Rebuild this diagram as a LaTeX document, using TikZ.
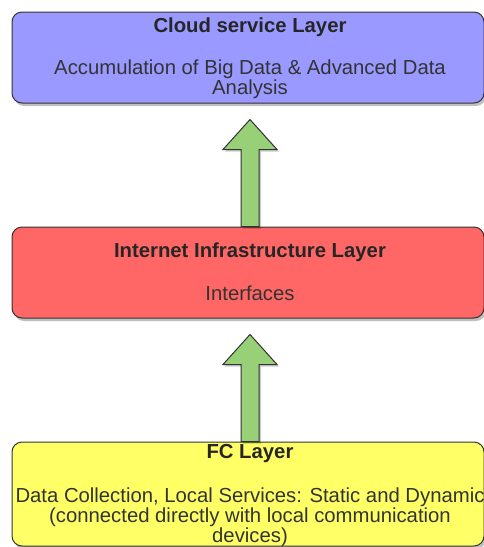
\documentclass[tikz,border=0pt]{standalone}
\usepackage{fontspec}
\setmainfont{Liberation Sans}
\usetikzlibrary{positioning, calc, shadows}
\definecolor{cloudblue}{HTML}{9999FF}
\definecolor{netred}{HTML}{FF6666}
\definecolor{fcyellow}{HTML}{FFFF66}
\definecolor{upgreen}{HTML}{97D077}
\definecolor{edgegray}{HTML}{333333}
\tikzset{
layer/.style={draw=edgegray, line width=1pt, rounded corners=10pt, minimum width=472pt,
  drop shadow={shadow xshift=2pt, shadow yshift=-3pt, fill=black, opacity=.25}}, % the three layer boxes
layertitle/.style={font=\fontsize{20.3}{20}\selectfont\bfseries, text=black!85, inner sep=0pt},
layertext/.style={font=\fontsize{20.3}{20}\selectfont, text=black!80, align=center, inner sep=0pt},
uparrow/.style={draw=edgegray, line width=1pt, fill=upgreen,
  drop shadow={shadow xshift=2pt, shadow yshift=-2pt, fill=black, opacity=.2}}, % block arrows between layers
}

\begin{document}
\begin{tikzpicture}[x=1pt, y=-1pt]
    \useasboundingbox (0,0) rectangle (484,547);
    % layers
    \node[layer, fill=cloudblue, minimum height=91pt] (cloud) at (248,57.5) {};
    \node[layer, fill=netred, minimum height=91pt] (internet) at (248,272.5) {};
    \node[layer, fill=fcyellow, minimum height=104pt] (fc) at (248,494) {};
    % texts
    \node[layertitle] (cloudtitle) at ([xshift=2pt,yshift=-16pt]cloud.north) {Cloud service Layer};
    \node[layertext] (cloudtext) at ([xshift=2pt,yshift=-68pt]cloud.north) {Accumulation of Big Data \& Advanced Data\\Analysis};
    \node[layertitle] (internettitle) at ([xshift=2pt,yshift=-26pt]internet.north) {Internet Infrastructure Layer};
    \node[layertext] (internettext) at ([xshift=2pt,yshift=-67pt]internet.north) {Interfaces};
    \node[layertitle] (fctitle) at ([xshift=2pt,yshift=-12pt]fc.north) {FC Layer};
    \node[layertext] (fctext) at ([xshift=2pt,yshift=-76pt]fc.north) {Data Collection, Local Services: Static and Dynamic\\(connected directly with local communication\\devices)};
    % arrows
    \foreach \lo/\hi in {internet/cloud, fc/internet}
      \draw[uparrow] ([xshift=-7pt]\lo.north) -- ([xshift=-7pt,yshift=-46pt]\hi.south)
        -- ([xshift=-25pt,yshift=-46pt]\hi.south) -- ([xshift=2pt,yshift=-16pt]\hi.south)
        -- ([xshift=29pt,yshift=-46pt]\hi.south) -- ([xshift=11pt,yshift=-46pt]\hi.south)
        -- ([xshift=11pt]\lo.north) -- cycle;
\end{tikzpicture}
\end{document}
